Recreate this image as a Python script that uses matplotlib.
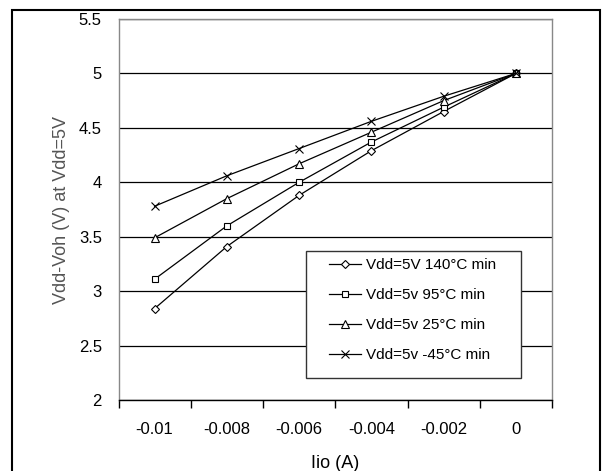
import numpy as np
import matplotlib
matplotlib.use('Agg')
import matplotlib.pyplot as plt
from matplotlib.patches import Rectangle

plt.rcParams['font.family'] = ['Liberation Sans', 'DejaVu Sans']

# Courant Iio (A) - axe par categories
categories = ['-0.01', '-0.008', '-0.006', '-0.004', '-0.002', '0']

# Vdd-Voh (V) pour chaque temperature
v140 = [2.84, 3.41, 3.88, 4.29, 4.65, 5.0]
v95 = [3.11, 3.60, 4.00, 4.37, 4.69, 5.0]
v25 = [3.49, 3.85, 4.17, 4.46, 4.75, 5.0]
vm45 = [3.78, 4.06, 4.31, 4.56, 4.79, 5.0]

labels = ['Vdd=5V 140°C min', 'Vdd=5v 95°C min', 'Vdd=5v 25°C min', 'Vdd=5v -45°C min']
markers = ['D', 's', '^', 'x']
sizes = [4, 5, 5.5, 6]

fig = plt.figure(figsize=(6.03, 4.71), dpi=100)
ax = fig.add_axes([118.5/603, 1-400/471, (552-118.5)/603, (400-19)/471])

x = np.arange(len(categories))
for serie, lab, m, s in zip([v140, v95, v25, vm45], labels, markers, sizes):
    ax.plot(x, serie, color='black', lw=0.9, marker=m, markersize=s,
            markerfacecolor='white', markeredgecolor='black', markeredgewidth=0.8,
            label=lab)

ax.set_xlim(-0.5, len(categories) - 0.5)
ax.set_ylim(2, 5.5)
ax.set_yticks(np.arange(2, 5.51, 0.5))
ax.set_yticklabels(['2', '2.5', '3', '3.5', '4', '4.5', '5', '5.5'])
ax.set_xticks(x)
ax.set_xticklabels(categories)
ax.set_xticks(np.arange(-0.5, len(categories), 1), minor=True)
ax.tick_params(axis='x', which='major', length=0, pad=16, labelsize=12)
ax.tick_params(axis='x', which='minor', length=6, width=1, color='black', direction='out')
ax.tick_params(axis='y', length=0, pad=12, labelsize=12)
ax.yaxis.grid(True, color='black', lw=0.9)
ax.set_axisbelow(True)

for side in ['left', 'top', 'right']:
    ax.spines[side].set_color('#888888')
    ax.spines[side].set_linewidth(1)
ax.spines['bottom'].set_color('black')
ax.spines['bottom'].set_linewidth(1)

ax.set_xlabel('Iio (A)', fontsize=13, labelpad=13)
ax.set_ylabel('Vdd-Voh (V) at Vdd=5V', fontsize=13, color='#555555', labelpad=6)

leg = ax.legend(loc='upper left', bbox_to_anchor=(329/603, 1-258/471), bbox_transform=fig.transFigure,
                fontsize=11, frameon=False, handlelength=2.1, labelspacing=1.05,
                borderpad=0, handletextpad=0.3, borderaxespad=0)

# cadre blanc de la legende
ax.add_patch(Rectangle((306/603, 1-378/471), (521-306)/603, (378-251)/471,
                       transform=fig.transFigure, facecolor='white', ec='#333333',
                       lw=1, zorder=4, clip_on=False))
# cadre exterieur
fig.patches.append(Rectangle((12/603, -0.05), (600-12)/603, 1-10/471+0.05,
                             transform=fig.transFigure, fill=False, ec='black', lw=1.5))

plt.savefig('out.png', dpi=100)
